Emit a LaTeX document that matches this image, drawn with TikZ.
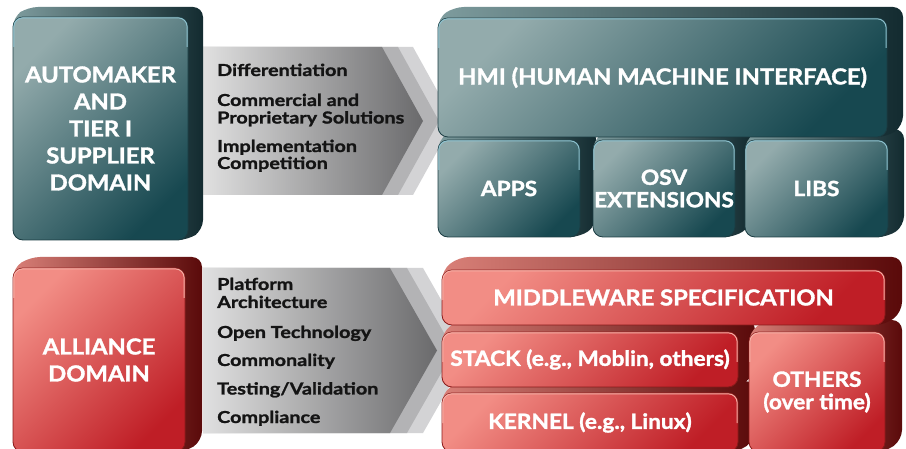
\documentclass[tikz,border=0pt]{standalone}
\usepackage{fontspec}
\setmainfont{Lato}[FakeStretch=1.08, BoldFeatures={FakeBold=1.5}]
\newfontfamily\chevfont{Lato}[FakeStretch=1.2, BoldFeatures={FakeBold=1.4}]
\usetikzlibrary{backgrounds}
\definecolor{tealL}{HTML}{93ABAC}
\definecolor{tealD}{HTML}{174850}
\definecolor{tealHL}{HTML}{8FC3D0}
\definecolor{tealB}{HTML}{1B3C42}
\definecolor{tealXL}{HTML}{7E9C9E}
\definecolor{tealXR}{HTML}{132B30}
\definecolor{redL}{HTML}{F28D85}
\definecolor{redD}{HTML}{BF1E26}
\definecolor{redHL}{HTML}{F7B2A8}
\definecolor{redB}{HTML}{8A1A1A}
\definecolor{redXL}{HTML}{D98078}
\definecolor{redXR}{HTML}{5A0A0A}
\definecolor{chevL}{HTML}{E0E0E0}
\definecolor{chevR}{HTML}{6A6A6C}
\definecolor{chevM}{HTML}{B3B3B5}
\definecolor{chevB}{HTML}{D3D3D5}
\newcommand\extrude[4]{%
  \path[#4] (#1.south west) -- (#1.north west) -- ([shift={(#2,#3)}]#1.north west)
    -- ([shift={(#2,#3)}]#1.north east) -- ([shift={(#2,#3)}]#1.south east)
    -- (#1.south east) -- cycle;}
\newcommand\highlight[2]{%
  \draw[#2, rounded corners=9pt] ([shift={(0.8,30)}]#1.north west) -- ([shift={(0.8,0.8)}]#1.north west)
    -- ([shift={(-0.8,0.8)}]#1.north east) -- ([shift={(-0.8,30)}]#1.north east);}
\tikzset{
  front/.style={rectangle, rounded corners=10pt, inner sep=0pt, outer sep=0pt,
    text=white, font=\bfseries, align=center, line width=0.8pt},
  tealface/.style={front, top color=tealL, bottom color=tealD, shading angle=45, draw=tealB},
  redface/.style={front, top color=redL, bottom color=redD, shading angle=45, draw=redB},
  tealext/.style={rounded corners=10pt, left color=tealXL, right color=tealXR},
  redext/.style={rounded corners=10pt, left color=redXL, right color=redXR},
  tealhl/.style={tealHL, line width=1pt},
  redhl/.style={redHL, line width=1pt},
  chevfront/.style={left color=chevL, right color=chevR},
  chevmid/.style={fill=chevM},
  chevback/.style={fill=chevB},
  item/.style={anchor=base west, inner sep=0pt, font=\chevfont\bfseries\fontsize{16.5}{18}\selectfont, text=black!92},
  big/.style={font=\bfseries\fontsize{22}{27}\selectfont},
  mid/.style={font=\bfseries\fontsize{21}{22.5}\selectfont},
}
\begin{document}
\begin{tikzpicture}[x=1pt,y=-1pt]
\useasboundingbox (0,0) rectangle (906,449);
\clip (0,0) rectangle (906,449);

% front faces (nodes)
\node[tealface, big, minimum width=175, minimum height=223] (auto) at (100.5,128.5)
  {AUTOMAKER\\AND\\TIER I\\SUPPLIER\\DOMAIN};
\node[tealface, big, minimum width=449, minimum height=119] (hmi) at (662.5,77.5)
  {HMI (HUMAN MACHINE INTERFACE)};
\node[tealface, mid, minimum width=142, minimum height=97] (apps) at (509,188.5) {APPS};
\node[tealface, mid, minimum width=142, minimum height=97] (osv) at (664,188.5) {OSV\\EXTENSIONS};
\node[tealface, mid, minimum width=143, minimum height=97] (libs) at (816.5,188.5) {LIBS};

\node[redface, big, minimum width=172, minimum height=184] (alli) at (99,360)
  {ALLIANCE\\DOMAIN};
\node[redface, big, minimum width=443, minimum height=55] (mw) at (663.5,297.5)
  {MIDDLEWARE SPECIFICATION};
\node[redface, mid, minimum width=296, minimum height=55] (stack) at (590,359.5)
  {STACK (e.g., Moblin, others)};
\node[redface, mid, minimum width=296, minimum height=59] (kern) at (590,422.5)
  {KERNEL (e.g., Linux)};
\node[redface, mid, minimum width=136, minimum height=120] (oth) at (817,392)
  {OTHERS\\(over time)};

\highlight{auto}{tealhl}
\highlight{hmi}{tealhl}
\highlight{apps}{tealhl}
\highlight{osv}{tealhl}
\highlight{libs}{tealhl}
\highlight{alli}{redhl}
\highlight{mw}{redhl}
\highlight{stack}{redhl}
\highlight{kern}{redhl}
\highlight{oth}{redhl}

\begin{scope}[on background layer]
  \fill[white] (0,0) rectangle (906,449);
  % chevrons
  \path[chevback] (203,47) -- (413,47) -- (454,121) -- (413,195) -- (203,195) -- cycle;
  \path[chevmid] (203,47) -- (398,47) -- (439,121) -- (398,195) -- (203,195) -- cycle;
  \path[chevfront] (203,47) -- (382,47) -- (423,121) -- (382,195) -- (203,195) -- cycle;
  \path[chevback] (203,268) -- (423,268) -- (470,350.5) -- (423,433) -- (203,433) -- cycle;
  \path[chevmid] (203,268) -- (407,268) -- (454,350.5) -- (407,433) -- (203,433) -- cycle;
  \path[chevfront] (203,268) -- (390,268) -- (437,350.5) -- (390,433) -- (203,433) -- cycle;
  % extrusions
  \extrude{apps}{16}{-11}{tealext}
  \extrude{osv}{16}{-11}{tealext}
  \extrude{libs}{16}{-11}{tealext}
  \extrude{hmi}{16}{-11}{tealext}
  \extrude{auto}{15}{-10}{tealext}
  \extrude{kern}{17}{-12}{redext}
  \extrude{stack}{17}{-12}{redext}
  \extrude{oth}{17}{-12}{redext}
  \extrude{mw}{17}{-13}{redext}
  \extrude{alli}{17}{-11}{redext}
\end{scope}

% chevron texts
\node[item] (t1) at (217,76) {Differentiation};
\node[item] (t2) at (217,106) {Commercial and};
\node[item] (t3) at (217,123.5) {Proprietary Solutions};
\node[item] (t4) at (217,152) {Implementation};
\node[item] (t5) at (217,169) {Competition};
\node[item] (b1) at (217,290) {Platform};
\node[item] (b2) at (217,308) {Architecture};
\node[item] (b3) at (217,338) {Open Technology};
\node[item] (b4) at (217,366) {Commonality};
\node[item] (b5) at (217,394.5) {Testing/Validation};
\node[item] (b6) at (217,423) {Compliance};
\end{tikzpicture}
\end{document}
